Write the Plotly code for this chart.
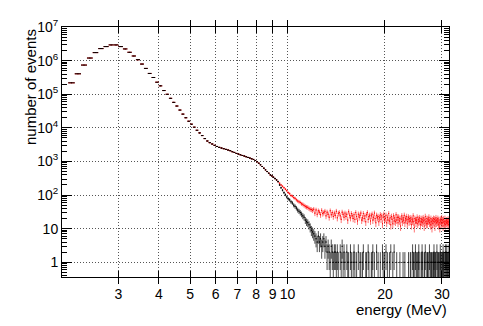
import numpy as np
import plotly.graph_objects as go

# histogram binning (MeV)
bin_start = 2.1
bin_width = 0.1

# events per bin, 2.15 .. 9.35 MeV (both spectra agree here)
counts_common = [
    219000, 407000, 741000, 1200000, 1740000, 2290000, 2630000, 2950000, 2950000,
    2630000, 2240000, 1780000, 1380000, 1070000, 794000, 589000, 417000, 316000, 229000,
    178000, 129000, 100000, 75900, 57500, 44700, 33900, 25700, 20000, 15800,
    12900, 10500, 8510, 7080, 5890, 4790, 4070, 3630, 3310, 3020,
    2800, 2630, 2510, 2400, 2290, 2190, 2090, 1950, 1860, 1740,
    1660, 1580, 1510, 1450, 1380, 1320, 1260, 1200, 1150, 1070,
    980, 890, 795, 708, 631, 562, 501, 447, 398, 372,
    339, 309, 282, 251,
]

# events per bin above 9.4 MeV, red spectrum
counts_red_tail = [
    225, 200, 183, 165, 150, 135,
    118, 110, 97, 93, 84, 80, 72, 67, 63, 60,
    55, 53, 49, 46, 44, 43, 40, 38, 37, 35,
    38, 29, 36, 27, 34, 31, 26, 35, 28, 30,
    33, 24, 31, 27, 22, 34, 26, 30, 23, 29,
    25, 33, 21, 28, 30, 24, 19, 31, 27, 22,
    29, 23, 27, 18, 32, 25, 21, 28, 24, 20,
    26, 19, 30, 23, 17, 27, 22, 25, 29, 18,
    21, 28, 20, 24, 16, 26, 30, 19, 23, 25,
    17, 24, 27, 18, 22, 29, 20, 15, 25, 21,
    23, 16, 21, 26, 19, 24, 14, 22, 27, 18,
    20, 25, 15, 22, 18, 28, 17, 21, 13, 23,
    19, 14, 24, 17, 21, 16, 26, 18, 22, 15,
    22, 17, 20, 12, 19, 24, 16, 21, 18, 25,
    15, 20, 18, 23, 14, 19, 22, 16, 20, 17,
    21, 13, 19, 17, 24, 16, 11, 20, 18, 15,
    18, 22, 14, 19, 16, 21, 17, 13, 20, 16,
    19, 15, 21, 17, 12, 18, 23, 16, 14, 20,
    14, 19, 17, 22, 15, 18, 13, 20, 16, 11,
    18, 14, 20, 16, 19, 12, 17, 21, 15, 18,
    16, 20, 13, 18, 15, 11, 19, 17, 14, 21,
    15, 18, 12, 19, 16, 14, 20, 13, 17, 15,
    18, 14, 16, 19, 13, 17, 15,
]

# events per bin above 9.4 MeV, black spectrum
counts_black_tail = [
    200, 165, 140, 118, 102, 88,
    77, 72, 63, 58, 50, 46, 41, 36, 33, 30,
    27, 24, 22, 18, 16, 15, 13, 11, 9, 8,
    7, 6, 5, 4, 6, 4, 5, 3, 4, 5,
    3, 4, 2, 3, 2, 1, 3, 2, 1, 2,
    2, 1, 2, 1, 0, 2, 1, 3, 1, 2,
    1, 0, 2, 1, 1, 0, 2, 1, 0, 1,
    2, 1, 0, 1, 0, 2, 0, 1, 1, 0,
    1, 2, 0, 0, 1, 1, 0, 2, 1, 0,
    0, 1, 1, 2, 0, 1, 0, 0, 2, 0,
    1, 0, 0, 1, 0, 0, 2, 1, 0, 1,
    0, 2, 0, 1, 0, 0, 1, 0, 2, 0,
    0, 1, 0, 2, 0, 0, 0, 1, 0, 0,
    0, 0, 1, 0, 0, 0, 0, 1, 0, 0,
    1, 0, 0, 0, 0, 0, 1, 0, 0, 1,
    1, 0, 0, 2, 1, 1, 0, 1, 2, 0,
    1, 0, 1, 1, 2, 0, 1, 0, 0, 1,
    2, 1, 0, 0, 1, 1, 2, 0, 0, 1,
    1, 1, 0, 1, 2, 0, 1, 0, 1, 1,
    0, 1, 1, 2, 1, 0, 1, 1, 0, 2,
    1, 0, 1, 1, 0, 1, 2, 1, 1, 0,
    1, 1, 2, 1, 1, 0, 1, 2, 1, 1,
    2, 1, 1, 0, 1, 2, 1,
]

y_tickvals = [1, 10, 100, 1e3, 1e4, 1e5, 1e6, 1e7]
y_ticktext = ['1', '10', '10<sup>2</sup>', '10<sup>3</sup>', '10<sup>4</sup>',
              '10<sup>5</sup>', '10<sup>6</sup>', '10<sup>7</sup>']
x_tickvals = [3, 4, 5, 6, 7, 8, 9, 10, 20, 30]
x_ticktext = ['3', '4', '5', '6', '7', '8', '9', '10', '20', '30']

y_range = [-0.44, 7.003]   # log10


def hist_trace(counts, color, bar_color):
    # ROOT "E" style: horizontal bar over the bin, vertical sqrt(N) error bar
    counts = np.array(counts, dtype=float)
    centers = bin_start + bin_width * (np.arange(len(counts)) + 0.5)
    keep = counts > 0
    n = counts[keep]
    err = np.sqrt(n)
    low = np.maximum(n - err, 0.1)
    return go.Scatter(
        x=centers[keep], y=n, mode='markers',
        marker=dict(size=1, color=color),
        error_x=dict(type='data', array=np.full(n.size, bin_width / 2),
                     width=0, thickness=1, color=color),
        error_y=dict(type='data', symmetric=False, array=err, arrayminus=n - low,
                     width=0, thickness=1, color=bar_color),
        showlegend=False, hoverinfo='skip')


fig = go.Figure()
fig.add_trace(hist_trace(counts_common + counts_red_tail, '#ff0000', 'rgba(255,0,0,0.55)'))
fig.add_trace(hist_trace(counts_common + counts_black_tail, '#000000', 'rgba(0,0,0,0.7)'))
# empty trace so the overlay axis with the small log ticks gets drawn
fig.add_trace(go.Scatter(x=[3], y=[1], mode='none', yaxis='y2',
                         showlegend=False, hoverinfo='skip'))

axis_style = dict(showline=True, linecolor='black', linewidth=1, mirror='allticks',
                  ticks='inside', tickcolor='black', showgrid=True, gridcolor='#555555',
                  griddash='1px,2px', gridwidth=1, zeroline=False,
                  ticklabeloverflow='allow', tickfont=dict(size=14, color='black'))

fig.update_xaxes(type='log', range=[0.303, 1.499], tickvals=x_tickvals, ticktext=x_ticktext,
                 ticklen=6, ticklabelstandoff=4, **axis_style)
fig.update_yaxes(type='log', range=y_range, tickvals=y_tickvals, ticktext=y_ticktext,
                 ticklen=10, **axis_style)

fig.update_layout(yaxis2=dict(type='log', range=y_range, overlaying='y', anchor='x',
                              side='left', dtick='D1', showticklabels=False,
                              ticks='inside', ticklen=5, tickcolor='black',
                              mirror='allticks', showline=False, showgrid=False,
                              zeroline=False))

fig.add_annotation(text='energy (MeV)', xref='paper', yref='paper', x=1, y=0,
                   xanchor='right', yanchor='top', yshift=-22, showarrow=False,
                   font=dict(size=15, color='black'))
fig.add_annotation(text='number of events', xref='paper', yref='paper', x=0, y=1,
                   xanchor='center', yanchor='top', xshift=-32, textangle=-90,
                   showarrow=False, font=dict(size=15, color='black'))

# page body keeps an 8px margin, so the figure is shrunk by that much
fig.update_layout(width=475, height=318, margin=dict(l=54, r=34, t=9, b=49),
                  plot_bgcolor='white', paper_bgcolor='white',
                  font=dict(family='Liberation Sans, Arial, sans-serif', size=14, color='black'))

fig.write_html("out.html")
